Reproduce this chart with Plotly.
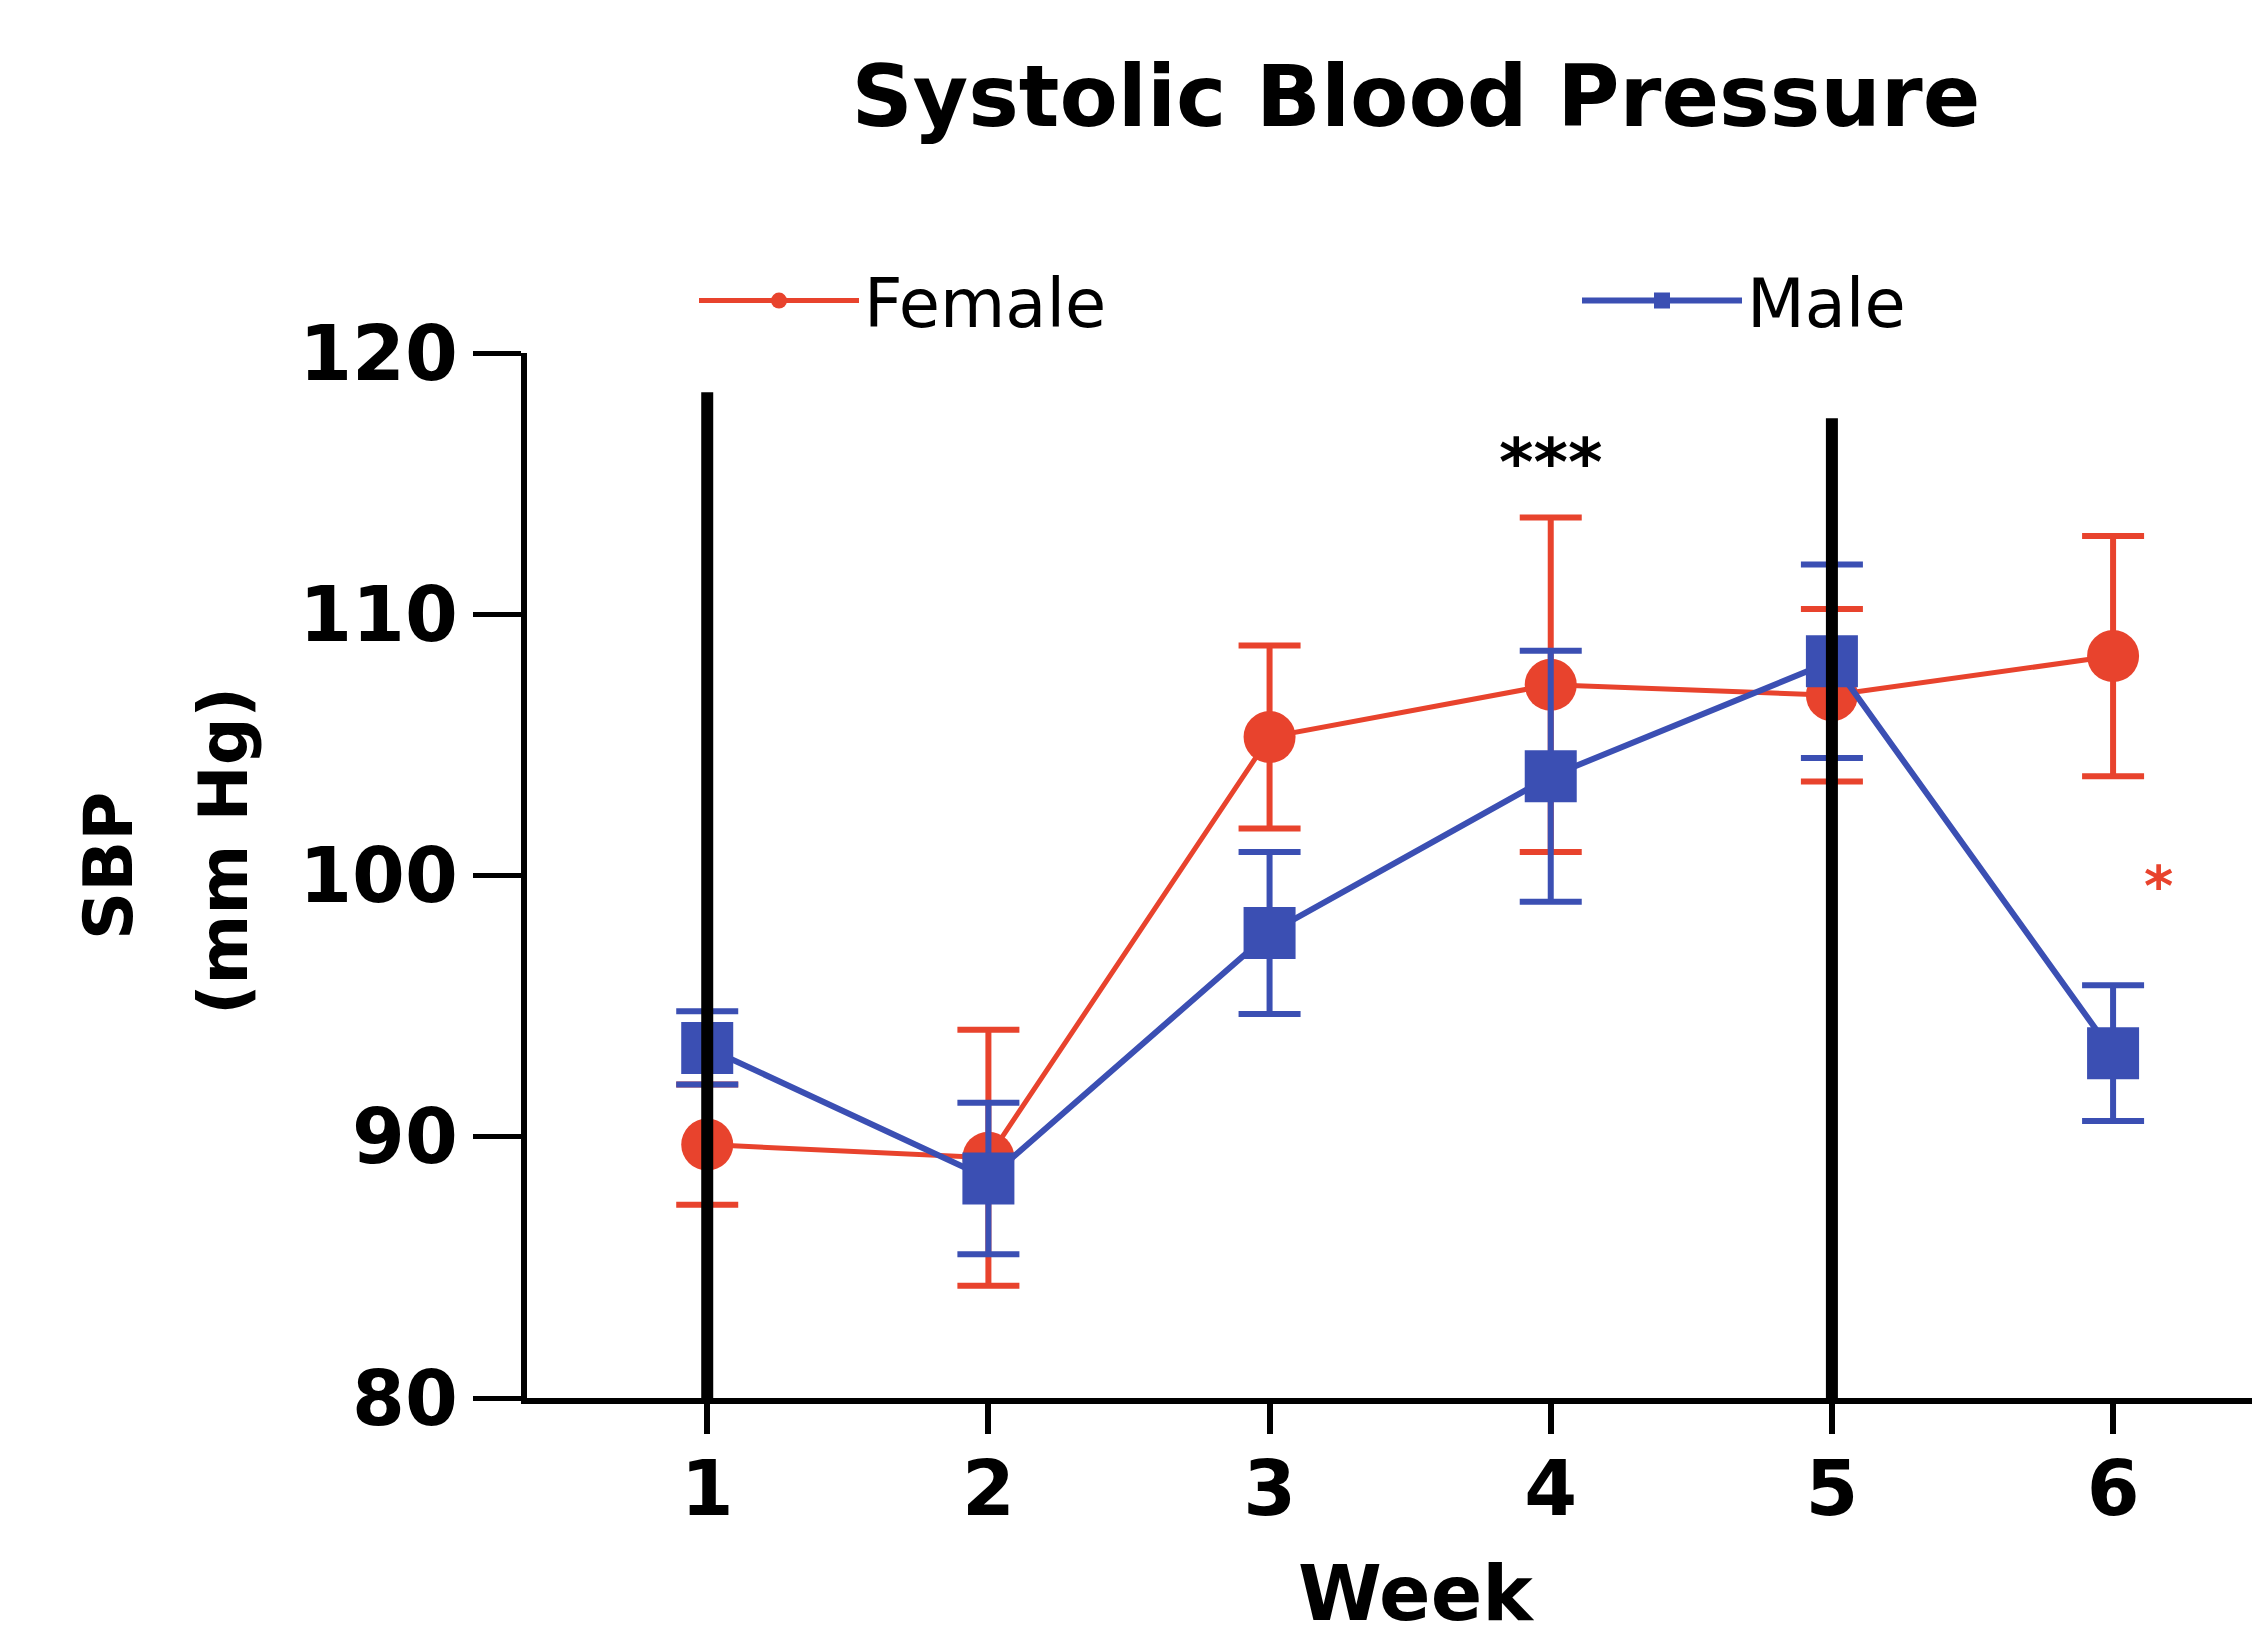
import plotly.graph_objects as go

weeks = [1, 2, 3, 4, 5, 6]
week_labels = ["1", "2", "3", "4", "5", "6"]

female_mean = [89.7, 89.2, 105.3, 107.3, 106.9, 108.4]
female_err = [2.3, 4.9, 3.5, 6.4, 3.3, 4.6]

male_mean = [93.4, 88.4, 97.8, 103.8, 108.2, 93.2]
male_err = [1.4, 2.9, 3.1, 4.8, 3.7, 2.6]

divider_weeks = [1, 5]
divider_tops = [118.5, 117.5]

y_ticks = [80, 90, 100, 110, 120]

sig_labels = ["***", "*"]
sig_x = [4, 6.16]
sig_y = [115.8, 99.6]
sig_colors = ["black", "#E8432D"]

RED = "#E8432D"
BLUE = "#3B4FB3"

W, H = 2260, 1643
ML, MR, MT, MB = 519, 0, 345, 253
PW, PH = W - ML - MR, H - MT - MB


def px_x(px):
    return (px - ML) / PW


def px_y(py):
    return (H - MB - py) / PH


fig = go.Figure()

fig.add_trace(go.Scatter(
    x=weeks, y=female_mean, name="Female", mode="lines+markers",
    line=dict(color=RED, width=5),
    marker=dict(symbol="circle", size=52, color=RED),
    error_y=dict(type="data", array=female_err, visible=True, color=RED,
                 thickness=6, width=31),
    cliponaxis=False, legend="legend",
))
fig.add_trace(go.Scatter(
    x=weeks, y=male_mean, name="Male", mode="lines+markers",
    line=dict(color=BLUE, width=6),
    marker=dict(symbol="square", size=52, color=BLUE),
    error_y=dict(type="data", array=male_err, visible=True, color=BLUE,
                 thickness=6, width=31),
    cliponaxis=False, legend="legend2",
))

for wk, top in zip(divider_weeks, divider_tops):
    fig.add_trace(go.Scatter(
        x=[wk, wk], y=[y_ticks[0], top], mode="lines",
        line=dict(color="black", width=12), showlegend=False,
        hoverinfo="skip", cliponaxis=False,
    ))

for lab, sx, sy, sc in zip(sig_labels, sig_x, sig_y, sig_colors):
    fig.add_annotation(x=sx, y=sy, xref="x", yref="y", text=lab,
                       showarrow=False,
                       font=dict(family="DejaVu Sans", size=66 if lab == "***" else 56,
                                 color=sc, weight="bold"))

# axis titles
fig.add_annotation(x=px_x(101), y=px_y(858), xref="paper", yref="paper",
                   xanchor="center", yanchor="middle",
                   text="<b>SBP</b>", textangle=-90, showarrow=False,
                   font=dict(family="DejaVu Sans", size=67, color="black"))
fig.add_annotation(x=px_x(216), y=px_y(843), xref="paper", yref="paper",
                   xanchor="center", yanchor="middle",
                   text="<b>(mm Hg)</b>", textangle=-90, showarrow=False,
                   font=dict(family="DejaVu Sans", size=67, color="black"))
fig.add_annotation(x=px_x(1408), y=px_y(1632), xref="paper", yref="paper",
                   xanchor="center", yanchor="bottom",
                   text="<b>Week</b>", showarrow=False,
                   font=dict(family="DejaVu Sans", size=76, color="black"))

LEG_W = 160
legend_common = dict(
    orientation="h", xref="container", yref="container",
    y=1 - 293 / H, yanchor="middle", xanchor="left",
    font=dict(family="DejaVu Sans", size=67, color="black"),
    itemwidth=LEG_W, bgcolor="rgba(0,0,0,0)", borderwidth=0,
)

fig.update_layout(
    width=W, height=H,
    margin=dict(l=ML, r=MR, t=MT, b=MB, pad=0, autoexpand=False),
    paper_bgcolor="white", plot_bgcolor="white",
    title=dict(text="<b>Systolic Blood Pressure</b>", x=1408 / W, xanchor="center",
               y=1 - 88 / H, yanchor="middle",
               font=dict(family="DejaVu Sans", size=85, color="black")),
    showlegend=True,
    legend=dict(x=686 / W, **legend_common),
    legend2=dict(x=1569 / W, **legend_common),
    xaxis=dict(range=[0.359, 6.551], tickvals=weeks, ticktext=week_labels,
               showgrid=False, zeroline=False, showline=True, linecolor="black",
               linewidth=6, ticks="outside", ticklen=30, tickwidth=6,
               tickcolor="black", ticklabelstandoff=-10, automargin=False,
               tickfont=dict(family="DejaVu Sans", size=76, color="black", weight="bold")),
    yaxis=dict(range=[80, 120], tickvals=y_ticks,
               showgrid=False, zeroline=False, showline=True, linecolor="black",
               linewidth=6, ticks="outside", ticklen=48, tickwidth=5,
               tickcolor="black", automargin=False,
               tickfont=dict(family="DejaVu Sans", size=76, color="black", weight="bold")),
)

fig.write_html("out.html")
